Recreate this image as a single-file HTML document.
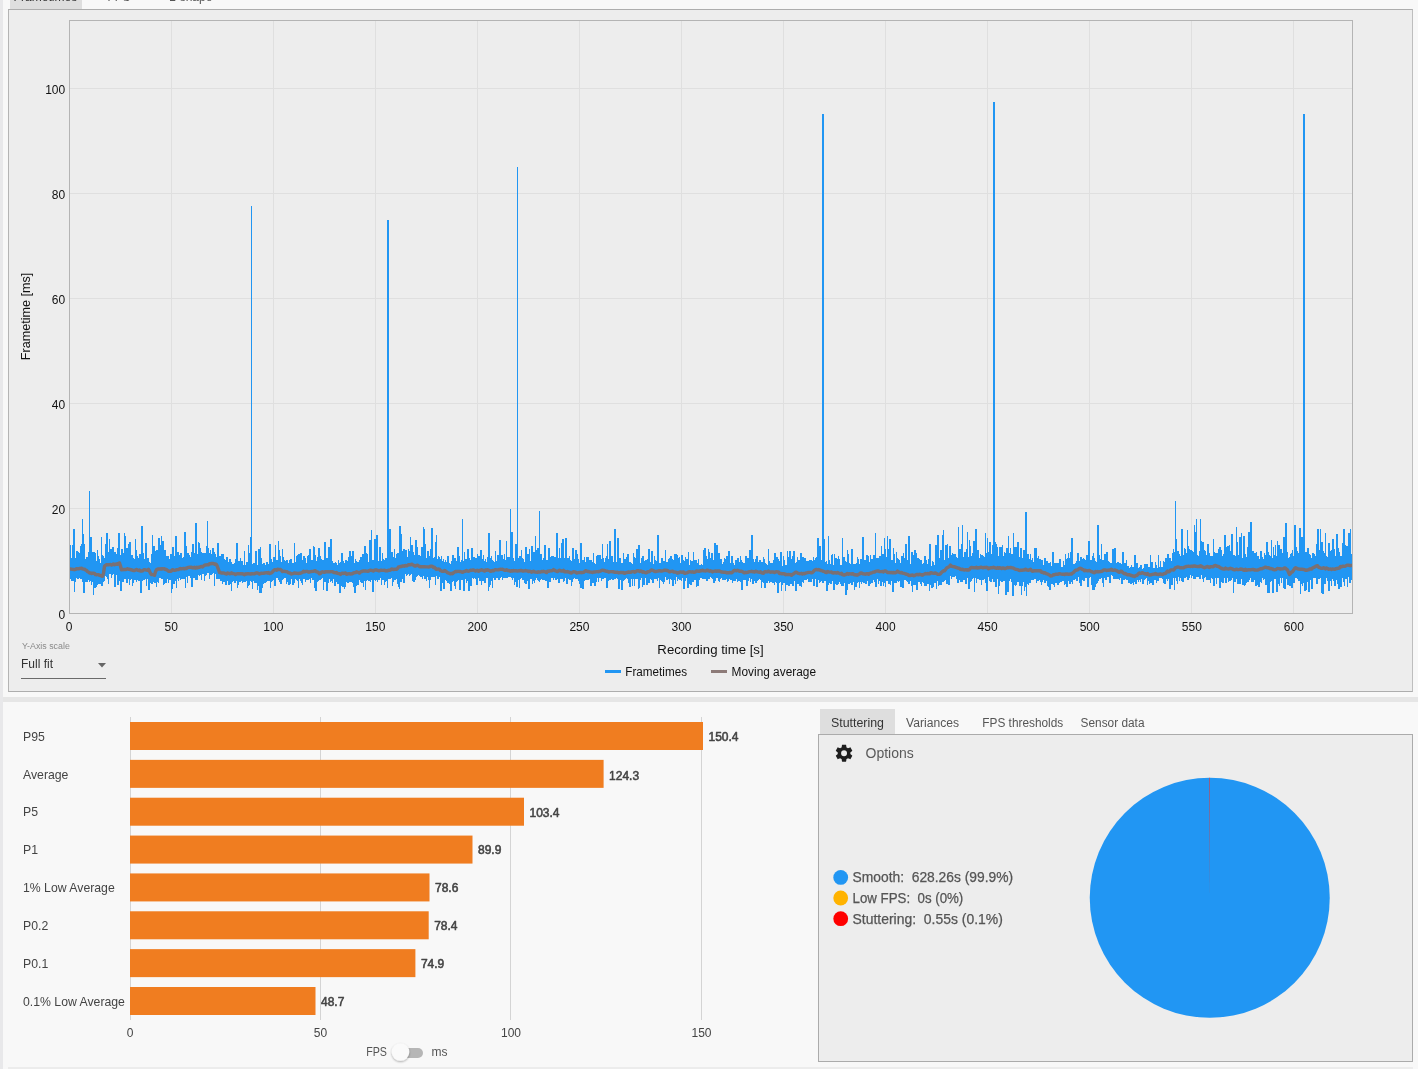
<!DOCTYPE html><html lang="en"><head><meta charset="utf-8"><title>CapFrameX Analysis</title>
<style>
html,body{margin:0;padding:0}
body{width:1418px;height:1069px;position:relative;overflow:hidden;background:#f8f8f8;font-family:"Liberation Sans", sans-serif;font-size:12px;color:#444}
.abs{position:absolute}
.t{position:absolute;white-space:nowrap;line-height:1}
svg{position:absolute;left:0;top:0}
svg text{font-family:"Liberation Sans", sans-serif}
</style></head><body>
<div class="abs" style="left:0;top:0;width:3px;height:1069px;background:#e8e8ea"></div>
<div class="abs" style="left:10px;top:0;width:72px;height:9px;background:#dedede"></div>
<div class="t" id="tab1" style="left:13.5px;top:-9px;letter-spacing:0.05px;font-size:12px;color:#333">Frametimes</div>
<div class="t" id="tab2" style="left:107.6px;top:-9px;font-size:11.6px;color:#555">FPS</div>
<div class="t" id="tab3" style="left:169px;top:-9px;font-size:12px;color:#555">L-shape</div>
<div class="abs" style="left:8px;top:9px;width:1403px;height:681px;border:1px solid #adadad;border-left-color:#b4b4b4;border-right-color:#bebebe;background:#ededed"></div>
<div class="abs" style="left:3px;top:697px;width:1415px;height:5px;background:#e6e6e6"></div>
<div class="abs" style="left:8px;top:1067px;width:1405px;height:2px;background:#ececec"></div>
<svg width="1418" height="1069" viewBox="0 0 1418 1069">
<path d="M171.5,21V613 M273.5,21V613 M375.5,21V613 M477.5,21V613 M579.5,21V613 M681.5,21V613 M783.5,21V613 M885.5,21V613 M987.5,21V613 M1089.5,21V613 M1191.5,21V613 M1293.5,21V613 M70,508.5H1352 M70,403.5H1352 M70,298.5H1352 M70,193.5H1352 M70,88.5H1352" stroke="#dfdfdf" stroke-width="1" fill="none" shape-rendering="crispEdges"/>
<clipPath id="pc"><rect x="70" y="21" width="1282" height="592"/></clipPath><g clip-path="url(#pc)">
<path d="M69.5,590.0V544.7M70.5,579.2V544.7M71.5,580.5V557.6M72.5,580.5V545.0M73.5,581.1V528.7M74.5,592.0V528.7M75.5,581.6V557.6M76.5,578.0V551.1M77.5,578.6V551.1M78.5,578.6V552.2M79.5,578.2V552.6M80.5,579.1V545.6M81.5,579.3V543.8M82.5,581.5V519.0M83.5,592.6V534.2M84.5,592.6V544.3M85.5,582.1V559.3M86.5,582.1V556.6M87.5,582.1V556.5M88.5,580.3V551.7M89.5,581.9V490.7M90.5,580.6V537.0M91.5,585.4V537.0M92.5,581.7V551.9M93.5,595.3V551.9M94.5,587.8V551.5M95.5,587.8V552.7M96.5,587.3V560.9M97.5,584.5V549.6M98.5,583.8V556.0M99.5,583.8V559.2M100.5,584.2V562.9M101.5,585.6V537.0M102.5,585.6V554.5M103.5,581.6V556.3M104.5,580.6V557.9M105.5,576.3V543.6M106.5,576.9V533.2M107.5,579.0V533.2M108.5,583.7V552.3M109.5,573.6V539.2M110.5,573.6V549.1M111.5,577.9V549.1M112.5,574.6V546.7M113.5,573.6V546.7M114.5,587.3V552.4M115.5,587.3V552.0M116.5,575.1V553.5M117.5,584.9V548.1M118.5,584.9V532.7M119.5,581.0V532.7M120.5,590.6V555.2M121.5,590.6V549.3M122.5,581.5V549.3M123.5,581.5V552.8M124.5,578.9V533.4M125.5,578.9V536.2M126.5,582.5V548.4M127.5,582.5V548.4M128.5,578.9V543.7M129.5,584.8V542.4M130.5,579.7V542.4M131.5,578.7V555.3M132.5,585.7V555.3M133.5,583.2V557.6M134.5,579.7V559.0M135.5,579.7V539.3M136.5,581.5V549.8M137.5,580.2V555.8M138.5,581.0V558.2M139.5,581.0V553.6M140.5,593.0V553.6M141.5,593.0V525.7M142.5,580.9V525.7M143.5,580.3V552.6M144.5,579.8V559.0M145.5,578.5V543.1M146.5,585.6V543.1M147.5,579.3V558.3M148.5,589.6V558.3M149.5,589.6V562.3M150.5,582.6V562.5M151.5,584.0V553.6M152.5,584.0V535.3M153.5,582.2V545.7M154.5,583.2V545.7M155.5,583.2V551.3M156.5,587.1V549.6M157.5,582.3V549.6M158.5,582.6V538.0M159.5,578.3V538.0M160.5,578.3V545.4M161.5,578.7V536.4M162.5,578.7V540.8M163.5,585.2V540.8M164.5,583.7V549.6M165.5,583.1V549.6M166.5,583.1V556.2M167.5,579.3V556.0M168.5,583.0V556.0M169.5,580.1V559.3M170.5,579.8V554.2M171.5,592.6V554.1M172.5,589.1V547.3M173.5,583.6V547.3M174.5,583.6V555.9M175.5,580.8V536.1M176.5,588.1V536.1M177.5,579.3V551.8M178.5,580.7V551.8M179.5,577.9V555.4M180.5,580.1V552.6M181.5,579.3V552.6M182.5,579.2V557.5M183.5,579.1V556.9M184.5,579.1V532.0M185.5,588.4V532.0M186.5,576.8V545.7M187.5,582.9V553.1M188.5,576.3V553.1M189.5,575.5V555.4M190.5,578.0V557.0M191.5,587.0V552.0M192.5,587.0V544.3M193.5,578.4V544.3M194.5,578.4V553.3M195.5,579.6V522.7M196.5,580.0V522.7M197.5,580.0V553.9M198.5,575.0V542.1M199.5,576.3V542.7M200.5,574.5V547.9M201.5,579.8V551.5M202.5,574.0V552.9M203.5,574.0V552.9M204.5,581.1V552.6M205.5,576.4V552.6M206.5,575.0V545.8M207.5,573.2V521.3M208.5,573.2V548.4M209.5,578.8V553.1M210.5,575.4V549.7M211.5,575.4V554.1M212.5,573.9V547.6M213.5,572.9V547.6M214.5,586.3V552.3M215.5,574.2V553.7M216.5,578.6V556.6M217.5,578.6V543.3M218.5,579.4V543.3M219.5,578.8V555.6M220.5,580.6V555.6M221.5,580.6V554.4M222.5,584.1V554.4M223.5,582.4V554.4M224.5,582.4V558.9M225.5,584.5V560.4M226.5,584.5V557.2M227.5,580.5V557.2M228.5,585.1V562.1M229.5,585.1V559.0M230.5,584.4V559.0M231.5,590.9V562.4M232.5,582.2V563.7M233.5,581.4V564.2M234.5,582.7V562.5M235.5,582.7V559.2M236.5,581.0V542.6M237.5,588.2V542.6M238.5,584.6V560.9M239.5,582.0V560.9M240.5,582.0V558.3M241.5,581.1V560.5M242.5,582.6V560.5M243.5,581.6V564.5M244.5,581.6V550.6M245.5,582.3V565.1M246.5,581.1V561.5M247.5,588.4V561.5M248.5,585.6V544.7M249.5,585.0V552.6M250.5,580.6V536.6M251.5,581.9V206.1M252.5,589.1V564.1M253.5,580.8V562.5M254.5,582.8V563.4M255.5,582.8V551.2M256.5,583.1V551.2M257.5,589.5V564.6M258.5,585.8V549.1M259.5,593.2V549.1M260.5,593.2V547.0M261.5,593.2V557.5M262.5,587.5V564.3M263.5,583.6V562.7M264.5,583.3V562.7M265.5,583.1V564.5M266.5,581.5V562.1M267.5,581.0V562.1M268.5,581.2V564.3M269.5,581.4V543.8M270.5,587.7V543.8M271.5,582.1V558.7M272.5,580.9V562.1M273.5,579.7V556.6M274.5,585.6V556.6M275.5,585.6V544.6M276.5,578.2V560.2M277.5,578.2V560.2M278.5,580.4V540.7M279.5,581.5V550.4M280.5,584.0V555.9M281.5,584.0V561.7M282.5,580.0V549.3M283.5,578.5V557.0M284.5,578.3V560.3M285.5,577.9V560.6M286.5,584.1V560.0M287.5,582.3V560.0M288.5,584.7V563.1M289.5,584.7V559.5M290.5,583.9V559.0M291.5,579.1V559.0M292.5,584.6V563.4M293.5,584.6V563.3M294.5,582.5V542.5M295.5,579.4V561.5M296.5,579.7V556.4M297.5,580.9V555.1M298.5,587.5V553.7M299.5,579.0V553.7M300.5,580.7V553.4M301.5,583.2V553.4M302.5,584.6V560.3M303.5,578.9V556.3M304.5,578.9V556.3M305.5,582.4V557.5M306.5,580.4V562.8M307.5,580.4V555.8M308.5,580.4V555.3M309.5,578.6V549.4M310.5,582.6V549.4M311.5,578.4V560.0M312.5,579.7V560.0M313.5,579.7V546.3M314.5,587.6V546.8M315.5,590.5V555.0M316.5,590.5V560.7M317.5,581.9V557.1M318.5,581.4V548.4M319.5,580.2V548.4M320.5,580.2V556.2M321.5,579.2V558.8M322.5,578.0V560.0M323.5,590.3V560.0M324.5,581.6V541.6M325.5,581.6V541.6M326.5,590.8V558.2M327.5,590.8V558.3M328.5,582.7V546.9M329.5,579.0V546.9M330.5,581.8V538.9M331.5,581.0V538.9M332.5,582.6V561.3M333.5,579.4V562.7M334.5,586.2V562.7M335.5,586.2V561.5M336.5,581.5V562.7M337.5,584.1V564.9M338.5,584.1V560.3M339.5,593.3V562.5M340.5,593.3V561.6M341.5,585.9V552.6M342.5,586.7V552.6M343.5,586.6V561.2M344.5,589.3V562.8M345.5,587.1V560.3M346.5,582.4V560.3M347.5,583.3V561.1M348.5,583.0V557.3M349.5,582.0V550.7M350.5,582.1V550.7M351.5,582.0V555.9M352.5,582.9V551.4M353.5,586.6V551.4M354.5,593.3V562.9M355.5,593.3V559.4M356.5,585.8V560.7M357.5,585.3V561.6M358.5,585.3V561.5M359.5,580.3V559.8M360.5,582.0V557.4M361.5,582.6V557.4M362.5,582.6V554.0M363.5,587.3V554.0M364.5,581.1V546.1M365.5,590.4V546.1M366.5,580.8V552.6M367.5,579.5V554.0M368.5,580.7V562.3M369.5,580.7V540.0M370.5,581.9V540.0M371.5,580.0V530.2M372.5,592.4V560.1M373.5,592.4V560.3M374.5,580.1V539.3M375.5,581.1V539.3M376.5,580.1V535.0M377.5,581.8V535.0M378.5,580.4V560.5M379.5,580.4V547.2M380.5,578.4V547.2M381.5,585.3V560.7M382.5,580.2V553.4M383.5,580.2V558.6M384.5,585.4V559.8M385.5,582.4V558.1M386.5,580.7V558.1M387.5,587.6V219.8M388.5,579.2V219.8M389.5,579.2V528.6M390.5,579.4V528.6M391.5,578.1V552.3M392.5,586.0V552.3M393.5,582.4V557.1M394.5,579.9V548.5M395.5,579.9V557.5M396.5,578.8V553.5M397.5,583.9V552.9M398.5,587.1V552.9M399.5,588.6V526.0M400.5,581.9V526.0M401.5,581.9V534.2M402.5,578.5V550.9M403.5,582.7V548.7M404.5,582.7V548.7M405.5,573.9V549.7M406.5,576.1V549.7M407.5,574.6V556.6M408.5,574.4V549.3M409.5,575.7V550.5M410.5,574.9V536.9M411.5,574.0V545.0M412.5,580.9V545.0M413.5,582.4V552.2M414.5,582.4V554.6M415.5,579.7V539.7M416.5,577.3V539.7M417.5,576.4V547.1M418.5,574.5V555.4M419.5,576.4V555.4M420.5,576.5V556.4M421.5,576.5V546.6M422.5,579.3V546.6M423.5,575.6V526.6M424.5,579.3V528.9M425.5,579.3V543.5M426.5,580.9V557.5M427.5,576.7V551.4M428.5,579.6V551.4M429.5,588.1V555.9M430.5,579.6V548.9M431.5,576.8V528.4M432.5,577.4V528.4M433.5,576.8V558.4M434.5,576.8V556.7M435.5,585.4V541.8M436.5,576.3V535.3M437.5,578.8V558.7M438.5,578.8V556.1M439.5,577.4V557.4M440.5,590.8V558.7M441.5,590.8V555.8M442.5,583.4V560.6M443.5,589.2V558.5M444.5,589.2V562.3M445.5,580.1V559.5M446.5,581.3V561.5M447.5,583.3V555.7M448.5,583.3V555.7M449.5,583.6V562.6M450.5,591.2V563.8M451.5,591.2V560.9M452.5,582.0V554.6M453.5,580.9V554.6M454.5,585.9V558.0M455.5,589.2V558.0M456.5,581.5V560.9M457.5,581.4V546.6M458.5,580.1V546.6M459.5,590.3V556.4M460.5,590.3V561.5M461.5,579.7V559.9M462.5,579.7V518.5M463.5,590.5V561.1M464.5,590.5V551.9M465.5,578.7V559.0M466.5,582.8V559.0M467.5,580.9V549.3M468.5,590.9V549.3M469.5,590.8V557.9M470.5,586.4V560.1M471.5,586.4V547.6M472.5,578.3V547.6M473.5,578.7V557.2M474.5,577.8V557.2M475.5,579.3V557.7M476.5,585.0V557.7M477.5,585.0V554.2M478.5,578.0V556.4M479.5,580.7V556.4M480.5,580.7V550.1M481.5,584.7V550.1M482.5,581.4V558.7M483.5,581.4V554.5M484.5,582.6V561.2M485.5,582.6V558.7M486.5,578.4V562.2M487.5,578.3V556.5M488.5,591.2V532.8M489.5,586.8V532.8M490.5,584.6V558.1M491.5,580.9V556.4M492.5,588.4V559.9M493.5,578.0V561.3M494.5,579.9V561.6M495.5,579.9V550.8M496.5,578.3V561.1M497.5,578.2V554.9M498.5,580.1V555.3M499.5,579.5V539.9M500.5,578.4V539.9M501.5,576.8V554.8M502.5,579.9V554.8M503.5,578.3V558.5M504.5,578.3V554.4M505.5,578.3V559.6M506.5,578.0V541.1M507.5,577.7V557.1M508.5,577.3V557.3M509.5,577.3V556.8M510.5,577.3V509.1M511.5,577.5V531.7M512.5,579.8V531.7M513.5,577.7V558.3M514.5,584.6V560.6M515.5,581.6V543.8M516.5,586.7V543.8M517.5,586.7V166.8M518.5,579.6V557.8M519.5,587.5V555.5M520.5,578.7V555.5M521.5,578.2V550.0M522.5,579.7V558.2M523.5,579.7V559.4M524.5,583.4V561.9M525.5,584.1V546.6M526.5,584.1V546.9M527.5,580.6V553.5M528.5,589.1V553.5M529.5,589.1V549.1M530.5,578.8V560.9M531.5,578.7V546.3M532.5,583.5V546.3M533.5,581.4V551.7M534.5,582.7V551.7M535.5,579.6V536.0M536.5,577.8V550.0M537.5,580.4V548.1M538.5,580.7V548.1M539.5,581.7V511.1M540.5,579.6V554.4M541.5,578.8V554.4M542.5,579.6V560.4M543.5,579.6V558.3M544.5,579.5V545.3M545.5,580.5V545.3M546.5,580.5V560.0M547.5,588.3V560.0M548.5,588.3V547.7M549.5,582.0V547.7M550.5,582.0V556.7M551.5,577.7V556.3M552.5,578.3V555.7M553.5,579.9V555.7M554.5,577.7V557.3M555.5,579.9V557.4M556.5,579.9V532.7M557.5,578.9V532.7M558.5,583.2V557.8M559.5,583.2V548.4M560.5,579.4V558.0M561.5,578.7V542.7M562.5,578.7V539.2M563.5,582.3V539.2M564.5,581.3V557.8M565.5,578.4V537.9M566.5,583.7V537.9M567.5,583.7V558.3M568.5,578.9V558.3M569.5,579.9V556.0M570.5,579.9V560.0M571.5,585.9V560.7M572.5,581.8V547.9M573.5,579.0V547.9M574.5,578.4V559.0M575.5,578.8V549.7M576.5,579.2V549.7M577.5,578.8V553.6M578.5,580.7V558.7M579.5,583.6V562.6M580.5,587.9V543.1M581.5,587.9V543.1M582.5,588.9V559.8M583.5,588.9V559.8M584.5,580.6V556.9M585.5,580.3V562.3M586.5,580.2V556.7M587.5,579.6V556.7M588.5,579.6V557.2M589.5,579.2V559.7M590.5,586.0V559.7M591.5,586.0V560.4M592.5,583.4V561.6M593.5,583.4V552.5M594.5,586.2V562.9M595.5,586.2V563.6M596.5,581.5V555.6M597.5,578.2V554.6M598.5,582.4V555.4M599.5,577.7V555.4M600.5,577.5V555.1M601.5,580.5V558.6M602.5,579.1V544.0M603.5,579.2V557.8M604.5,578.4V561.8M605.5,578.4V557.7M606.5,588.1V555.8M607.5,588.1V544.4M608.5,581.4V558.7M609.5,579.6V540.7M610.5,580.1V540.7M611.5,578.5V556.1M612.5,580.1V556.1M613.5,579.8V562.0M614.5,578.9V529.0M615.5,578.9V529.0M616.5,578.1V561.7M617.5,578.7V537.6M618.5,589.4V537.6M619.5,589.4V557.8M620.5,579.8V558.0M621.5,589.6V562.9M622.5,589.6V562.5M623.5,580.7V552.9M624.5,580.3V558.7M625.5,578.7V558.7M626.5,578.4V557.0M627.5,578.8V554.4M628.5,583.4V554.4M629.5,586.5V561.9M630.5,586.5V561.5M631.5,579.4V562.8M632.5,586.4V564.0M633.5,579.4V553.2M634.5,585.6V556.8M635.5,579.3V558.1M636.5,579.4V549.3M637.5,578.8V549.3M638.5,588.7V544.6M639.5,587.7V544.6M640.5,580.0V563.2M641.5,577.6V558.1M642.5,587.2V555.8M643.5,584.6V555.8M644.5,584.6V560.8M645.5,577.8V559.7M646.5,584.8V559.7M647.5,584.8V559.0M648.5,583.1V548.5M649.5,583.1V548.5M650.5,579.2V562.1M651.5,580.1V551.2M652.5,582.9V551.2M653.5,582.9V563.7M654.5,578.8V555.5M655.5,578.7V560.3M656.5,579.3V560.5M657.5,580.8V535.3M658.5,578.1V535.3M659.5,587.7V563.2M660.5,579.5V563.0M661.5,581.0V557.7M662.5,581.8V557.7M663.5,583.9V561.3M664.5,581.9V561.3M665.5,577.3V549.5M666.5,579.7V561.6M667.5,579.7V561.8M668.5,579.0V559.2M669.5,583.9V558.0M670.5,578.7V556.2M671.5,580.4V556.2M672.5,585.7V558.8M673.5,585.7V559.9M674.5,579.6V554.0M675.5,584.4V554.0M676.5,577.4V554.3M677.5,581.1V554.5M678.5,579.4V558.4M679.5,579.9V557.0M680.5,579.9V563.2M681.5,581.0V555.3M682.5,578.3V555.3M683.5,588.5V560.2M684.5,588.5V560.9M685.5,581.0V557.0M686.5,578.4V559.4M687.5,587.7V559.4M688.5,587.7V551.7M689.5,584.0V565.4M690.5,584.9V560.2M691.5,584.9V560.9M692.5,581.8V560.9M693.5,581.8V551.5M694.5,579.5V559.6M695.5,579.6V559.9M696.5,587.3V559.9M697.5,585.5V562.5M698.5,585.5V559.4M699.5,580.0V564.6M700.5,578.0V564.6M701.5,577.9V563.6M702.5,578.8V564.6M703.5,578.8V550.3M704.5,579.4V548.1M705.5,579.0V548.1M706.5,581.4V556.2M707.5,581.3V558.7M708.5,579.1V548.9M709.5,579.1V551.6M710.5,577.4V557.9M711.5,578.1V552.9M712.5,579.3V552.9M713.5,582.8V560.3M714.5,582.8V543.2M715.5,580.9V543.2M716.5,578.1V545.1M717.5,578.1V545.1M718.5,580.8V553.3M719.5,582.1V553.3M720.5,578.8V559.2M721.5,578.3V559.2M722.5,580.3V564.3M723.5,580.3V562.0M724.5,580.3V557.8M725.5,580.3V558.6M726.5,579.1V556.2M727.5,581.9V556.2M728.5,580.7V551.1M729.5,579.2V551.1M730.5,580.3V562.7M731.5,580.4V555.5M732.5,583.2V555.5M733.5,581.3V563.3M734.5,580.5V564.6M735.5,580.5V560.3M736.5,578.8V560.4M737.5,582.0V558.2M738.5,580.6V558.2M739.5,580.6V562.1M740.5,581.5V556.0M741.5,590.2V560.4M742.5,590.2V562.1M743.5,580.2V562.5M744.5,580.2V562.7M745.5,580.0V556.1M746.5,585.5V556.1M747.5,585.5V558.2M748.5,580.6V558.2M749.5,578.3V550.3M750.5,582.3V550.3M751.5,578.5V535.3M752.5,584.0V535.3M753.5,584.0V559.0M754.5,581.2V562.1M755.5,583.2V559.2M756.5,583.2V555.5M757.5,581.1V555.5M758.5,579.5V561.9M759.5,579.3V559.7M760.5,579.6V559.7M761.5,588.3V562.3M762.5,581.5V562.2M763.5,583.2V557.1M764.5,588.2V558.6M765.5,588.2V563.1M766.5,583.3V564.2M767.5,583.3V564.6M768.5,581.4V548.6M769.5,582.8V561.3M770.5,581.8V563.0M771.5,581.5V563.2M772.5,582.8V563.2M773.5,582.8V560.1M774.5,585.3V553.2M775.5,581.8V553.2M776.5,582.9V557.3M777.5,593.3V557.3M778.5,593.3V559.1M779.5,583.4V560.5M780.5,581.5V552.2M781.5,591.3V552.2M782.5,585.4V566.1M783.5,583.2V555.7M784.5,582.6V560.1M785.5,590.7V564.9M786.5,584.8V564.9M787.5,584.8V551.2M788.5,586.3V556.6M789.5,586.3V551.4M790.5,583.8V551.4M791.5,583.5V559.3M792.5,585.5V555.7M793.5,585.5V551.4M794.5,581.4V551.4M795.5,590.6V563.1M796.5,590.6V562.1M797.5,584.4V557.3M798.5,584.4V559.6M799.5,585.6V559.6M800.5,585.6V552.6M801.5,586.9V552.6M802.5,582.0V556.6M803.5,582.7V556.6M804.5,579.9V557.6M805.5,579.7V557.6M806.5,579.7V561.4M807.5,579.3V561.3M808.5,581.8V561.3M809.5,581.8V560.0M810.5,581.6V560.0M811.5,581.6V560.2M812.5,579.2V560.9M813.5,585.8V556.7M814.5,585.8V559.5M815.5,579.4V557.5M816.5,587.4V557.2M817.5,587.4V537.9M818.5,579.5V537.9M819.5,582.8V546.0M820.5,581.7V546.0M821.5,581.3V560.3M822.5,582.6V114.2M823.5,582.6V114.2M824.5,580.6V538.5M825.5,581.2V561.5M826.5,591.3V561.3M827.5,591.3V563.5M828.5,584.7V536.0M829.5,582.5V559.9M830.5,583.7V564.0M831.5,583.7V554.8M832.5,581.3V553.7M833.5,589.5V564.5M834.5,589.5V553.7M835.5,583.5V558.3M836.5,585.0V558.3M837.5,585.0V559.3M838.5,583.8V556.2M839.5,581.9V559.2M840.5,584.0V565.3M841.5,585.8V565.1M842.5,586.1V538.3M843.5,586.1V557.0M844.5,583.1V557.0M845.5,594.7V560.9M846.5,594.7V561.8M847.5,590.2V549.8M848.5,583.7V554.2M849.5,583.7V563.1M850.5,582.5V564.0M851.5,584.7V549.0M852.5,584.7V549.0M853.5,582.3V563.7M854.5,590.4V564.4M855.5,586.6V564.4M856.5,586.6V563.3M857.5,582.5V556.5M858.5,582.2V559.3M859.5,587.5V563.9M860.5,581.6V559.4M861.5,583.8V559.4M862.5,581.6V536.7M863.5,582.8V536.7M864.5,582.8V559.6M865.5,583.7V559.6M866.5,583.7V555.2M867.5,580.9V555.2M868.5,586.4V556.4M869.5,586.4V561.7M870.5,584.2V554.8M871.5,582.8V558.8M872.5,583.4V558.8M873.5,579.9V554.8M874.5,582.3V554.8M875.5,586.6V533.2M876.5,586.6V558.0M877.5,579.0V557.9M878.5,583.6V557.9M879.5,581.4V556.2M880.5,586.3V556.2M881.5,586.3V546.4M882.5,581.7V554.2M883.5,586.1V554.2M884.5,582.7V537.9M885.5,587.3V549.2M886.5,581.2V557.0M887.5,581.4V535.8M888.5,584.1V549.3M889.5,584.1V538.6M890.5,584.9V538.6M891.5,581.1V559.8M892.5,591.9V559.8M893.5,591.9V548.2M894.5,582.9V554.4M895.5,582.9V563.1M896.5,582.9V551.9M897.5,580.8V557.7M898.5,582.4V559.4M899.5,580.8V560.1M900.5,587.2V563.1M901.5,587.2V556.4M902.5,588.1V556.4M903.5,588.1V553.0M904.5,580.3V558.4M905.5,580.3V543.5M906.5,580.5V543.5M907.5,582.3V560.0M908.5,584.2V535.5M909.5,584.2V535.5M910.5,580.8V563.8M911.5,585.5V552.4M912.5,592.2V552.4M913.5,584.5V554.9M914.5,584.5V550.1M915.5,584.7V550.1M916.5,589.5V553.2M917.5,589.5V557.8M918.5,582.2V557.8M919.5,581.7V558.8M920.5,583.5V559.5M921.5,586.1V559.5M922.5,581.5V563.5M923.5,583.3V562.5M924.5,585.6V555.6M925.5,585.6V555.6M926.5,585.6V559.8M927.5,583.5V564.2M928.5,584.0V558.7M929.5,591.2V544.2M930.5,585.1V544.2M931.5,587.9V565.7M932.5,587.9V561.2M933.5,586.5V562.0M934.5,582.9V565.4M935.5,582.9V544.9M936.5,588.6V544.9M937.5,581.4V534.8M938.5,585.8V534.8M939.5,585.3V557.6M940.5,585.3V549.5M941.5,584.8V549.5M942.5,581.7V535.1M943.5,581.7V530.0M944.5,581.3V559.9M945.5,580.1V545.4M946.5,583.7V545.4M947.5,583.7V543.9M948.5,585.0V557.7M949.5,585.0V545.6M950.5,575.9V545.6M951.5,579.0V555.2M952.5,577.0V552.7M953.5,577.0V553.8M954.5,577.4V553.8M955.5,576.1V554.2M956.5,579.3V556.9M957.5,583.3V558.2M958.5,583.3V526.8M959.5,579.6V548.9M960.5,582.3V548.9M961.5,582.3V544.3M962.5,582.1V525.2M963.5,579.5V556.9M964.5,579.5V551.5M965.5,584.0V551.5M966.5,584.0V548.5M967.5,578.0V531.6M968.5,589.0V557.0M969.5,589.0V539.5M970.5,581.9V545.8M971.5,580.6V556.0M972.5,578.8V553.2M973.5,577.9V541.0M974.5,592.2V541.0M975.5,577.6V529.0M976.5,583.2V529.0M977.5,579.4V549.6M978.5,578.9V549.6M979.5,579.9V558.2M980.5,579.9V554.2M981.5,584.5V555.2M982.5,579.8V555.2M983.5,579.8V556.4M984.5,578.6V557.2M985.5,582.5V533.2M986.5,591.4V553.4M987.5,591.4V537.7M988.5,577.3V551.5M989.5,581.1V541.7M990.5,582.4V541.7M991.5,582.4V554.1M992.5,579.0V545.0M993.5,581.5V102.2M994.5,581.5V102.2M995.5,587.2V541.9M996.5,587.2V543.5M997.5,579.3V547.2M998.5,593.6V555.5M999.5,585.7V546.5M1000.5,581.3V546.5M1001.5,582.2V547.0M1002.5,582.2V545.0M1003.5,580.6V556.2M1004.5,580.6V551.6M1005.5,594.5V552.9M1006.5,594.5V548.4M1007.5,591.7V548.4M1008.5,591.7V536.3M1009.5,581.2V552.7M1010.5,579.1V547.9M1011.5,581.5V554.2M1012.5,596.2V554.2M1013.5,596.2V533.2M1014.5,584.7V547.0M1015.5,585.7V547.0M1016.5,585.1V547.3M1017.5,582.4V542.4M1018.5,582.4V542.4M1019.5,585.6V556.7M1020.5,585.6V548.2M1021.5,594.8V548.2M1022.5,585.8V557.6M1023.5,582.2V549.8M1024.5,591.2V549.8M1025.5,587.3V512.2M1026.5,596.2V512.2M1027.5,583.8V553.7M1028.5,585.2V553.7M1029.5,583.4V559.3M1030.5,583.4V553.7M1031.5,580.4V559.9M1032.5,580.4V557.6M1033.5,579.7V561.7M1034.5,579.3V547.6M1035.5,579.4V547.6M1036.5,582.8V547.8M1037.5,581.4V558.0M1038.5,581.4V555.8M1039.5,580.1V558.8M1040.5,582.4V558.8M1041.5,585.2V560.0M1042.5,581.6V560.0M1043.5,579.9V564.5M1044.5,583.3V558.3M1045.5,583.1V558.3M1046.5,580.6V560.9M1047.5,586.3V560.9M1048.5,586.6V563.2M1049.5,590.2V563.2M1050.5,590.2V562.0M1051.5,583.6V565.8M1052.5,583.6V551.5M1053.5,584.6V551.5M1054.5,587.2V562.8M1055.5,582.6V562.8M1056.5,582.6V562.6M1057.5,585.0V563.4M1058.5,584.5V563.4M1059.5,582.9V559.3M1060.5,582.4V559.3M1061.5,581.9V566.9M1062.5,581.3V566.9M1063.5,580.9V560.5M1064.5,585.1V564.5M1065.5,583.8V553.5M1066.5,586.8V559.1M1067.5,586.8V557.6M1068.5,581.4V552.7M1069.5,583.5V557.7M1070.5,583.5V552.0M1071.5,582.1V538.0M1072.5,583.9V538.0M1073.5,579.9V564.3M1074.5,580.4V564.3M1075.5,579.3V563.3M1076.5,581.1V560.5M1077.5,581.1V553.4M1078.5,577.4V553.4M1079.5,582.7V561.1M1080.5,585.8V556.5M1081.5,585.8V556.5M1082.5,579.8V559.0M1083.5,580.6V557.8M1084.5,580.6V559.0M1085.5,577.6V559.6M1086.5,577.6V554.9M1087.5,586.6V554.9M1088.5,586.6V540.7M1089.5,578.4V540.7M1090.5,577.0V559.7M1091.5,585.2V559.7M1092.5,590.1V555.6M1093.5,590.1V553.3M1094.5,590.2V557.7M1095.5,586.7V561.0M1096.5,583.6V561.5M1097.5,582.5V524.8M1098.5,581.3V524.8M1099.5,578.9V555.0M1100.5,578.7V558.8M1101.5,578.0V544.2M1102.5,582.6V560.1M1103.5,587.1V560.1M1104.5,578.1V554.1M1105.5,580.4V554.1M1106.5,580.4V551.7M1107.5,577.1V551.7M1108.5,577.1V561.0M1109.5,582.9V562.2M1110.5,582.9V562.5M1111.5,575.3V563.1M1112.5,575.7V549.4M1113.5,578.8V549.4M1114.5,578.8V547.7M1115.5,579.3V547.7M1116.5,579.3V563.0M1117.5,578.5V561.9M1118.5,579.1V561.9M1119.5,580.3V562.9M1120.5,577.5V562.9M1121.5,584.1V564.4M1122.5,584.1V551.8M1123.5,580.0V551.8M1124.5,580.0V563.1M1125.5,578.8V563.1M1126.5,579.6V560.3M1127.5,579.6V566.1M1128.5,582.6V566.1M1129.5,582.6V568.3M1130.5,584.3V566.6M1131.5,584.3V565.1M1132.5,582.5V567.0M1133.5,585.0V567.0M1134.5,582.3V554.5M1135.5,584.4V554.5M1136.5,584.4V562.7M1137.5,579.6V562.7M1138.5,581.8V567.5M1139.5,579.9V566.5M1140.5,582.1V565.0M1141.5,579.3V565.0M1142.5,583.9V568.5M1143.5,583.9V567.9M1144.5,580.2V564.1M1145.5,579.4V564.1M1146.5,577.7V564.3M1147.5,585.1V564.3M1148.5,580.5V566.5M1149.5,583.5V567.2M1150.5,582.7V555.3M1151.5,582.7V561.7M1152.5,585.0V561.7M1153.5,585.0V567.5M1154.5,580.3V567.5M1155.5,580.3V562.1M1156.5,583.3V564.6M1157.5,580.9V567.8M1158.5,580.9V554.7M1159.5,578.0V567.0M1160.5,577.6V561.0M1161.5,578.3V566.7M1162.5,579.4V566.7M1163.5,582.7V560.8M1164.5,583.9V562.3M1165.5,583.9V557.5M1166.5,579.3V558.2M1167.5,580.7V554.1M1168.5,578.6V554.1M1169.5,589.2V558.0M1170.5,589.2V557.5M1171.5,585.4V560.7M1172.5,585.4V552.9M1173.5,577.5V548.9M1174.5,590.1V552.4M1175.5,578.0V501.2M1176.5,581.1V538.9M1177.5,583.8V551.0M1178.5,576.6V551.0M1179.5,580.7V553.7M1180.5,577.5V555.6M1181.5,580.9V529.0M1182.5,581.6V529.0M1183.5,581.6V555.0M1184.5,578.0V548.4M1185.5,578.0V548.6M1186.5,577.2V553.3M1187.5,580.3V530.0M1188.5,580.3V545.6M1189.5,577.6V549.2M1190.5,575.4V549.8M1191.5,577.6V549.8M1192.5,575.6V550.7M1193.5,579.1V551.5M1194.5,578.9V524.9M1195.5,578.9V531.6M1196.5,576.8V518.9M1197.5,576.5V555.3M1198.5,576.8V555.6M1199.5,579.1V550.6M1200.5,579.1V518.6M1201.5,574.8V540.7M1202.5,578.9V542.0M1203.5,581.5V542.0M1204.5,577.7V549.9M1205.5,577.4V550.5M1206.5,579.9V554.9M1207.5,579.9V543.9M1208.5,580.3V543.9M1209.5,580.0V552.8M1210.5,582.9V555.8M1211.5,578.3V555.8M1212.5,579.3V556.2M1213.5,585.9V538.7M1214.5,585.9V552.0M1215.5,577.7V552.7M1216.5,584.2V552.7M1217.5,577.8V553.2M1218.5,577.8V549.0M1219.5,587.7V547.1M1220.5,588.3V547.1M1221.5,581.8V550.2M1222.5,583.1V555.6M1223.5,583.1V554.4M1224.5,578.2V535.2M1225.5,583.4V535.2M1226.5,583.4V547.3M1227.5,578.2V545.8M1228.5,582.1V545.8M1229.5,581.0V544.7M1230.5,581.0V550.5M1231.5,579.6V533.8M1232.5,578.0V533.8M1233.5,593.4V554.8M1234.5,581.6V554.8M1235.5,581.6V555.8M1236.5,579.4V526.8M1237.5,584.2V541.5M1238.5,584.2V554.8M1239.5,583.7V537.2M1240.5,583.7V537.2M1241.5,579.0V532.6M1242.5,584.7V558.1M1243.5,584.7V535.5M1244.5,586.4V535.5M1245.5,584.8V553.5M1246.5,582.9V557.2M1247.5,582.4V547.1M1248.5,582.4V531.6M1249.5,579.5V532.3M1250.5,577.8V521.5M1251.5,582.4V521.5M1252.5,582.4V551.0M1253.5,581.5V551.0M1254.5,579.5V552.8M1255.5,586.0V552.8M1256.5,586.0V551.8M1257.5,584.6V556.1M1258.5,586.5V556.1M1259.5,586.5V558.6M1260.5,582.3V551.1M1261.5,583.1V551.1M1262.5,578.0V556.8M1263.5,579.5V558.6M1264.5,579.0V553.0M1265.5,584.8V554.5M1266.5,584.8V541.6M1267.5,593.3V541.6M1268.5,593.3V552.3M1269.5,593.3V555.1M1270.5,582.4V556.1M1271.5,580.8V540.0M1272.5,593.3V557.8M1273.5,593.3V547.4M1274.5,579.2V554.8M1275.5,578.7V544.8M1276.5,592.0V556.3M1277.5,592.0V540.9M1278.5,584.0V545.1M1279.5,585.5V545.1M1280.5,578.2V548.8M1281.5,582.6V548.8M1282.5,578.0V553.2M1283.5,587.8V536.5M1284.5,589.2V536.5M1285.5,589.2V522.8M1286.5,579.2V522.8M1287.5,584.7V552.3M1288.5,584.7V557.8M1289.5,586.0V557.3M1290.5,586.0V554.4M1291.5,588.1V553.4M1292.5,588.1V550.1M1293.5,583.3V555.8M1294.5,583.3V524.8M1295.5,578.2V524.8M1296.5,578.2V546.7M1297.5,578.5V550.8M1298.5,580.8V552.7M1299.5,580.8V528.4M1300.5,594.4V528.4M1301.5,584.4V537.0M1302.5,586.4V537.0M1303.5,582.5V114.2M1304.5,591.1V114.2M1305.5,591.1V552.2M1306.5,589.5V552.2M1307.5,582.1V547.7M1308.5,591.6V547.7M1309.5,591.6V554.4M1310.5,579.5V554.8M1311.5,588.9V557.6M1312.5,588.9V552.9M1313.5,578.2V552.9M1314.5,577.7V553.9M1315.5,577.7V556.0M1316.5,584.2V543.8M1317.5,584.2V529.0M1318.5,579.4V529.0M1319.5,579.4V550.2M1320.5,578.2V528.7M1321.5,593.2V542.0M1322.5,593.8V542.0M1323.5,593.8V551.2M1324.5,584.0V553.0M1325.5,584.0V533.2M1326.5,578.4V556.3M1327.5,580.5V556.9M1328.5,590.8V543.3M1329.5,590.8V543.3M1330.5,581.4V551.1M1331.5,586.4V550.3M1332.5,579.3V538.8M1333.5,580.5V538.8M1334.5,585.7V548.8M1335.5,585.7V556.4M1336.5,579.9V534.3M1337.5,583.5V534.3M1338.5,589.3V548.1M1339.5,589.3V551.6M1340.5,587.4V556.0M1341.5,587.4V555.7M1342.5,578.3V542.8M1343.5,582.2V528.7M1344.5,586.0V528.7M1345.5,578.9V545.3M1346.5,578.9V545.5M1347.5,586.6V545.5M1348.5,577.2V533.2M1349.5,583.2V533.2M1350.5,583.2V528.7M1351.5,579.9V553.7" fill="none" stroke="#2196f3" stroke-width="1" shape-rendering="crispEdges"/>
<polyline points="69.5,569.2 70.5,569.0 71.5,569.1 72.5,569.4 73.5,569.5 74.5,569.7 75.5,569.4 76.5,568.6 77.5,568.8 78.5,568.9 79.5,568.5 80.5,568.3 81.5,568.1 82.5,568.9 83.5,569.1 84.5,569.1 85.5,570.0 86.5,570.4 87.5,571.5 88.5,572.1 89.5,573.0 90.5,572.9 91.5,573.5 92.5,573.2 93.5,573.1 94.5,573.3 95.5,574.6 96.5,574.7 97.5,574.6 98.5,574.6 99.5,575.3 100.5,575.5 101.5,576.0 102.5,576.3 103.5,573.2 104.5,566.3 105.5,565.3 106.5,564.6 107.5,564.8 108.5,564.8 109.5,564.6 110.5,564.5 111.5,565.0 112.5,564.7 113.5,563.9 114.5,564.7 115.5,564.1 116.5,564.0 117.5,564.3 118.5,563.3 119.5,563.0 120.5,566.0 121.5,569.8 122.5,569.5 123.5,569.7 124.5,569.4 125.5,569.5 126.5,569.3 127.5,568.8 128.5,569.3 129.5,569.3 130.5,569.7 131.5,569.7 132.5,570.3 133.5,570.5 134.5,570.5 135.5,569.9 136.5,569.4 137.5,570.1 138.5,570.5 139.5,570.0 140.5,571.0 141.5,571.0 142.5,570.8 143.5,570.0 144.5,569.7 145.5,569.9 146.5,570.1 147.5,570.2 148.5,569.4 149.5,571.2 150.5,573.4 151.5,574.5 152.5,574.6 153.5,574.7 154.5,575.3 155.5,571.6 156.5,569.8 157.5,569.2 158.5,568.9 159.5,569.0 160.5,568.8 161.5,569.1 162.5,568.7 163.5,568.9 164.5,568.8 165.5,569.6 166.5,569.5 167.5,570.3 168.5,571.2 169.5,571.1 170.5,571.3 171.5,570.9 172.5,569.7 173.5,570.1 174.5,570.4 175.5,570.2 176.5,569.7 177.5,569.6 178.5,569.5 179.5,568.9 180.5,568.5 181.5,568.9 182.5,568.7 183.5,568.5 184.5,568.8 185.5,568.3 186.5,568.5 187.5,567.7 188.5,567.4 189.5,567.2 190.5,567.3 191.5,567.1 192.5,567.8 193.5,567.9 194.5,567.3 195.5,568.1 196.5,567.3 197.5,567.8 198.5,567.1 199.5,567.2 200.5,566.6 201.5,566.4 202.5,567.0 203.5,566.1 204.5,565.2 205.5,565.0 206.5,564.8 207.5,564.6 208.5,564.8 209.5,563.8 210.5,563.8 211.5,563.5 212.5,563.5 213.5,563.4 214.5,564.3 215.5,563.9 216.5,564.6 217.5,566.8 218.5,569.5 219.5,572.5 220.5,572.7 221.5,573.0 222.5,572.9 223.5,573.0 224.5,573.1 225.5,573.7 226.5,574.0 227.5,573.0 228.5,573.3 229.5,573.8 230.5,573.5 231.5,572.8 232.5,573.5 233.5,573.6 234.5,573.8 235.5,574.5 236.5,573.9 237.5,573.8 238.5,573.7 239.5,573.9 240.5,573.6 241.5,573.8 242.5,573.8 243.5,574.2 244.5,574.7 245.5,573.8 246.5,574.0 247.5,573.7 248.5,573.7 249.5,573.9 250.5,574.1 251.5,573.7 252.5,573.8 253.5,573.9 254.5,573.8 255.5,573.2 256.5,573.0 257.5,573.0 258.5,573.4 259.5,574.1 260.5,573.6 261.5,573.2 262.5,573.4 263.5,573.3 264.5,573.0 265.5,572.8 266.5,572.6 267.5,573.1 268.5,572.6 269.5,573.5 270.5,573.2 271.5,572.8 272.5,571.9 273.5,570.6 274.5,569.6 275.5,569.9 276.5,570.2 277.5,569.2 278.5,569.4 279.5,569.6 280.5,569.4 281.5,570.4 282.5,571.5 283.5,571.4 284.5,571.3 285.5,571.5 286.5,571.6 287.5,572.1 288.5,572.8 289.5,572.9 290.5,573.3 291.5,574.0 292.5,573.6 293.5,573.3 294.5,572.9 295.5,573.2 296.5,573.2 297.5,573.4 298.5,573.5 299.5,573.1 300.5,573.2 301.5,572.7 302.5,572.3 303.5,571.2 304.5,571.9 305.5,571.4 306.5,571.4 307.5,571.4 308.5,572.1 309.5,572.1 310.5,571.6 311.5,571.5 312.5,571.4 313.5,571.4 314.5,570.8 315.5,570.8 316.5,571.9 317.5,572.0 318.5,572.6 319.5,573.8 320.5,573.4 321.5,572.2 322.5,571.8 323.5,572.1 324.5,572.4 325.5,571.7 326.5,571.6 327.5,571.7 328.5,571.8 329.5,571.9 330.5,571.6 331.5,571.6 332.5,571.7 333.5,572.5 334.5,572.4 335.5,572.9 336.5,572.5 337.5,573.4 338.5,573.6 339.5,573.7 340.5,574.4 341.5,573.6 342.5,573.1 343.5,573.5 344.5,573.1 345.5,573.0 346.5,574.3 347.5,573.9 348.5,573.8 349.5,573.6 350.5,574.0 351.5,573.8 352.5,573.7 353.5,572.9 354.5,572.7 355.5,572.6 356.5,571.8 357.5,572.1 358.5,572.3 359.5,573.1 360.5,572.1 361.5,571.6 362.5,571.2 363.5,570.9 364.5,571.0 365.5,570.9 366.5,571.1 367.5,571.2 368.5,571.2 369.5,570.4 370.5,570.2 371.5,570.4 372.5,570.7 373.5,571.0 374.5,570.2 375.5,570.0 376.5,570.0 377.5,570.3 378.5,570.8 379.5,570.7 380.5,570.2 381.5,570.3 382.5,570.4 383.5,570.4 384.5,570.2 385.5,570.9 386.5,570.7 387.5,570.9 388.5,570.2 389.5,570.4 390.5,569.9 391.5,569.0 392.5,569.2 393.5,569.5 394.5,569.3 395.5,569.2 396.5,569.3 397.5,568.5 398.5,567.0 399.5,566.8 400.5,566.5 401.5,566.6 402.5,565.9 403.5,566.0 404.5,566.2 405.5,565.5 406.5,565.9 407.5,565.4 408.5,564.7 409.5,564.8 410.5,564.8 411.5,564.1 412.5,564.6 413.5,565.2 414.5,566.0 415.5,566.1 416.5,565.4 417.5,565.2 418.5,565.9 419.5,566.5 420.5,566.8 421.5,566.6 422.5,566.8 423.5,566.7 424.5,566.6 425.5,566.9 426.5,566.9 427.5,566.9 428.5,567.0 429.5,566.9 430.5,566.1 431.5,566.1 432.5,566.4 433.5,567.5 434.5,567.3 435.5,568.5 436.5,569.4 437.5,569.1 438.5,569.0 439.5,569.4 440.5,570.6 441.5,570.9 442.5,571.4 443.5,571.3 444.5,570.5 445.5,570.9 446.5,571.8 447.5,572.7 448.5,573.0 449.5,573.4 450.5,573.8 451.5,573.4 452.5,573.7 453.5,572.8 454.5,572.1 455.5,571.5 456.5,571.7 457.5,571.4 458.5,571.4 459.5,571.5 460.5,571.5 461.5,572.0 462.5,572.4 463.5,571.6 464.5,571.5 465.5,571.1 466.5,570.4 467.5,571.1 468.5,571.2 469.5,570.8 470.5,570.3 471.5,570.4 472.5,569.9 473.5,569.9 474.5,570.5 475.5,571.0 476.5,570.5 477.5,570.3 478.5,571.3 479.5,570.5 480.5,570.3 481.5,569.8 482.5,570.2 483.5,570.5 484.5,571.1 485.5,569.9 486.5,570.2 487.5,569.7 488.5,570.3 489.5,570.4 490.5,571.4 491.5,571.2 492.5,570.5 493.5,570.8 494.5,570.0 495.5,569.6 496.5,569.9 497.5,569.9 498.5,569.8 499.5,569.4 500.5,569.3 501.5,569.4 502.5,569.2 503.5,569.7 504.5,570.2 505.5,570.2 506.5,569.7 507.5,570.5 508.5,570.4 509.5,570.8 510.5,571.2 511.5,570.7 512.5,571.1 513.5,570.4 514.5,570.9 515.5,570.7 516.5,570.8 517.5,571.1 518.5,570.8 519.5,570.8 520.5,570.5 521.5,570.5 522.5,571.1 523.5,571.0 524.5,570.9 525.5,570.4 526.5,570.9 527.5,570.9 528.5,571.6 529.5,571.1 530.5,571.5 531.5,572.2 532.5,571.9 533.5,571.2 534.5,571.8 535.5,572.1 536.5,572.1 537.5,572.4 538.5,571.8 539.5,572.0 540.5,572.1 541.5,571.5 542.5,571.7 543.5,571.3 544.5,571.6 545.5,572.0 546.5,572.6 547.5,571.3 548.5,571.3 549.5,571.0 550.5,570.9 551.5,570.7 552.5,570.6 553.5,569.6 554.5,570.2 555.5,570.9 556.5,571.2 557.5,571.6 558.5,570.9 559.5,570.3 560.5,570.7 561.5,571.1 562.5,571.1 563.5,570.4 564.5,571.8 565.5,571.5 566.5,571.9 567.5,571.4 568.5,572.0 569.5,572.1 570.5,572.8 571.5,573.1 572.5,572.2 573.5,571.7 574.5,571.9 575.5,572.2 576.5,573.0 577.5,572.9 578.5,572.7 579.5,572.5 580.5,572.4 581.5,572.7 582.5,572.5 583.5,572.4 584.5,571.6 585.5,570.7 586.5,571.0 587.5,571.5 588.5,571.5 589.5,571.8 590.5,572.1 591.5,572.1 592.5,572.5 593.5,572.0 594.5,572.0 595.5,571.8 596.5,571.6 597.5,571.6 598.5,571.7 599.5,571.3 600.5,571.1 601.5,570.5 602.5,570.1 603.5,570.5 604.5,570.4 605.5,571.1 606.5,571.2 607.5,571.2 608.5,572.1 609.5,571.8 610.5,571.6 611.5,571.6 612.5,571.7 613.5,571.8 614.5,572.2 615.5,572.2 616.5,572.4 617.5,572.3 618.5,572.8 619.5,572.6 620.5,572.4 621.5,572.5 622.5,572.7 623.5,572.5 624.5,573.3 625.5,572.9 626.5,572.6 627.5,572.3 628.5,572.0 629.5,572.3 630.5,572.3 631.5,571.9 632.5,571.6 633.5,571.5 634.5,572.2 635.5,571.8 636.5,571.1 637.5,570.7 638.5,570.7 639.5,571.5 640.5,571.0 641.5,571.1 642.5,572.2 643.5,571.8 644.5,572.3 645.5,572.7 646.5,572.7 647.5,571.8 648.5,571.8 649.5,571.6 650.5,570.6 651.5,570.0 652.5,570.3 653.5,570.6 654.5,571.3 655.5,571.6 656.5,571.3 657.5,571.1 658.5,571.0 659.5,570.6 660.5,571.0 661.5,571.1 662.5,570.8 663.5,570.6 664.5,570.2 665.5,570.2 666.5,570.5 667.5,570.5 668.5,571.1 669.5,571.9 670.5,571.4 671.5,571.4 672.5,571.2 673.5,572.0 674.5,572.0 675.5,572.1 676.5,572.3 677.5,573.1 678.5,572.9 679.5,572.1 680.5,571.9 681.5,572.2 682.5,572.2 683.5,571.9 684.5,573.3 685.5,573.2 686.5,572.9 687.5,572.6 688.5,571.9 689.5,571.7 690.5,571.9 691.5,572.1 692.5,571.8 693.5,572.2 694.5,572.2 695.5,571.8 696.5,570.9 697.5,571.1 698.5,571.3 699.5,571.2 700.5,570.6 701.5,570.8 702.5,570.2 703.5,570.8 704.5,570.9 705.5,571.0 706.5,570.6 707.5,570.1 708.5,570.9 709.5,571.2 710.5,570.8 711.5,571.1 712.5,571.9 713.5,571.3 714.5,571.1 715.5,570.9 716.5,571.3 717.5,570.9 718.5,571.2 719.5,570.9 720.5,571.5 721.5,572.1 722.5,572.0 723.5,572.4 724.5,572.1 725.5,572.1 726.5,572.7 727.5,572.7 728.5,572.9 729.5,572.4 730.5,572.7 731.5,572.8 732.5,572.1 733.5,571.0 734.5,570.3 735.5,570.6 736.5,570.8 737.5,570.3 738.5,570.6 739.5,571.3 740.5,571.3 741.5,571.2 742.5,571.7 743.5,572.4 744.5,572.9 745.5,572.3 746.5,572.5 747.5,572.3 748.5,572.0 749.5,571.6 750.5,571.6 751.5,571.3 752.5,571.7 753.5,571.7 754.5,572.0 755.5,571.3 756.5,571.4 757.5,571.9 758.5,572.1 759.5,572.2 760.5,571.8 761.5,572.7 762.5,573.1 763.5,573.2 764.5,571.9 765.5,571.6 766.5,571.9 767.5,571.8 768.5,571.1 769.5,571.7 770.5,572.2 771.5,571.9 772.5,572.0 773.5,572.0 774.5,572.6 775.5,572.0 776.5,571.6 777.5,571.8 778.5,572.0 779.5,573.5 780.5,573.4 781.5,573.7 782.5,573.7 783.5,573.6 784.5,573.9 785.5,574.7 786.5,574.4 787.5,574.6 788.5,574.5 789.5,574.6 790.5,574.5 791.5,575.3 792.5,574.3 793.5,573.9 794.5,573.1 795.5,572.1 796.5,572.2 797.5,573.1 798.5,573.4 799.5,573.7 800.5,573.6 801.5,573.3 802.5,574.0 803.5,573.4 804.5,573.7 805.5,573.2 806.5,572.9 807.5,572.7 808.5,572.4 809.5,572.4 810.5,572.4 811.5,572.9 812.5,572.5 813.5,571.3 814.5,570.2 815.5,569.6 816.5,569.4 817.5,569.9 818.5,569.5 819.5,569.9 820.5,570.3 821.5,570.7 822.5,570.9 823.5,571.4 824.5,571.6 825.5,572.3 826.5,572.5 827.5,571.5 828.5,571.8 829.5,572.1 830.5,572.1 831.5,572.0 832.5,572.8 833.5,573.0 834.5,572.7 835.5,572.8 836.5,573.0 837.5,572.5 838.5,573.2 839.5,573.4 840.5,573.9 841.5,573.3 842.5,574.6 843.5,575.0 844.5,575.1 845.5,574.6 846.5,574.2 847.5,573.4 848.5,574.3 849.5,573.8 850.5,573.9 851.5,574.1 852.5,573.7 853.5,574.1 854.5,574.9 855.5,574.7 856.5,575.1 857.5,575.0 858.5,574.4 859.5,574.0 860.5,573.0 861.5,573.0 862.5,573.7 863.5,573.8 864.5,574.0 865.5,574.2 866.5,573.6 867.5,573.7 868.5,574.3 869.5,573.5 870.5,573.2 871.5,572.8 872.5,572.6 873.5,572.1 874.5,572.0 875.5,571.3 876.5,571.1 877.5,571.0 878.5,570.9 879.5,571.6 880.5,571.6 881.5,571.6 882.5,571.4 883.5,571.9 884.5,570.9 885.5,571.0 886.5,571.7 887.5,572.5 888.5,572.5 889.5,572.4 890.5,572.7 891.5,572.5 892.5,572.8 893.5,572.4 894.5,572.8 895.5,572.7 896.5,572.2 897.5,571.1 898.5,571.9 899.5,572.3 900.5,572.9 901.5,572.5 902.5,573.2 903.5,573.4 904.5,573.4 905.5,573.9 906.5,574.3 907.5,574.4 908.5,575.2 909.5,575.6 910.5,575.5 911.5,575.1 912.5,575.0 913.5,575.7 914.5,575.6 915.5,575.0 916.5,574.5 917.5,574.5 918.5,574.8 919.5,574.3 920.5,574.5 921.5,575.0 922.5,575.2 923.5,574.3 924.5,574.1 925.5,573.5 926.5,573.9 927.5,573.4 928.5,573.8 929.5,573.9 930.5,572.8 931.5,572.7 932.5,573.2 933.5,573.4 934.5,573.3 935.5,572.9 936.5,573.4 937.5,574.3 938.5,574.4 939.5,574.3 940.5,573.7 941.5,572.4 942.5,571.7 943.5,570.7 944.5,570.8 945.5,569.7 946.5,568.1 947.5,567.4 948.5,566.9 949.5,566.4 950.5,565.1 951.5,566.1 952.5,566.5 953.5,566.7 954.5,566.7 955.5,567.3 956.5,567.5 957.5,568.0 958.5,568.2 959.5,568.5 960.5,569.3 961.5,569.5 962.5,569.2 963.5,569.9 964.5,570.0 965.5,569.6 966.5,570.0 967.5,569.7 968.5,570.1 969.5,569.3 970.5,568.2 971.5,567.4 972.5,567.7 973.5,567.6 974.5,567.8 975.5,567.9 976.5,567.3 977.5,568.1 978.5,567.7 979.5,567.8 980.5,567.2 981.5,567.3 982.5,567.8 983.5,567.7 984.5,567.4 985.5,567.5 986.5,567.3 987.5,567.7 988.5,568.7 989.5,568.2 990.5,567.8 991.5,567.8 992.5,567.8 993.5,567.3 994.5,567.7 995.5,568.1 996.5,568.2 997.5,567.6 998.5,568.3 999.5,567.7 1000.5,568.1 1001.5,568.6 1002.5,567.9 1003.5,567.9 1004.5,568.6 1005.5,568.6 1006.5,568.1 1007.5,567.5 1008.5,567.8 1009.5,567.6 1010.5,567.4 1011.5,567.8 1012.5,567.9 1013.5,568.2 1014.5,568.8 1015.5,569.3 1016.5,569.4 1017.5,569.6 1018.5,570.1 1019.5,570.5 1020.5,570.2 1021.5,570.3 1022.5,570.2 1023.5,570.0 1024.5,570.0 1025.5,569.2 1026.5,570.0 1027.5,569.9 1028.5,570.4 1029.5,569.7 1030.5,569.2 1031.5,570.6 1032.5,571.2 1033.5,571.0 1034.5,570.7 1035.5,570.6 1036.5,570.8 1037.5,570.8 1038.5,570.6 1039.5,570.9 1040.5,570.7 1041.5,572.2 1042.5,572.2 1043.5,573.0 1044.5,572.7 1045.5,573.1 1046.5,573.8 1047.5,573.9 1048.5,574.5 1049.5,575.1 1050.5,576.0 1051.5,575.9 1052.5,575.4 1053.5,574.7 1054.5,574.7 1055.5,574.2 1056.5,574.2 1057.5,574.3 1058.5,574.0 1059.5,573.6 1060.5,573.9 1061.5,574.1 1062.5,574.2 1063.5,574.1 1064.5,574.6 1065.5,574.0 1066.5,574.2 1067.5,573.9 1068.5,574.4 1069.5,574.1 1070.5,573.9 1071.5,574.1 1072.5,573.1 1073.5,572.6 1074.5,571.2 1075.5,570.3 1076.5,570.2 1077.5,569.9 1078.5,569.1 1079.5,568.4 1080.5,568.3 1081.5,568.6 1082.5,569.6 1083.5,569.7 1084.5,570.7 1085.5,570.3 1086.5,570.6 1087.5,570.8 1088.5,570.7 1089.5,570.5 1090.5,571.1 1091.5,571.7 1092.5,572.0 1093.5,572.6 1094.5,572.7 1095.5,571.5 1096.5,571.9 1097.5,571.4 1098.5,571.9 1099.5,571.6 1100.5,571.5 1101.5,571.3 1102.5,570.9 1103.5,570.0 1104.5,570.0 1105.5,570.0 1106.5,570.5 1107.5,570.2 1108.5,570.3 1109.5,569.9 1110.5,570.0 1111.5,569.2 1112.5,570.3 1113.5,570.4 1114.5,569.9 1115.5,570.1 1116.5,570.7 1117.5,571.1 1118.5,572.1 1119.5,572.2 1120.5,571.3 1121.5,571.2 1122.5,572.3 1123.5,573.1 1124.5,573.7 1125.5,573.5 1126.5,574.3 1127.5,574.9 1128.5,574.8 1129.5,574.7 1130.5,575.2 1131.5,575.6 1132.5,576.1 1133.5,576.0 1134.5,576.6 1135.5,575.6 1136.5,575.5 1137.5,574.8 1138.5,573.6 1139.5,572.9 1140.5,573.5 1141.5,573.1 1142.5,572.6 1143.5,573.2 1144.5,573.7 1145.5,573.7 1146.5,574.4 1147.5,573.5 1148.5,574.7 1149.5,575.0 1150.5,574.8 1151.5,574.7 1152.5,574.4 1153.5,574.1 1154.5,574.1 1155.5,573.4 1156.5,574.4 1157.5,574.3 1158.5,574.5 1159.5,574.2 1160.5,574.0 1161.5,574.3 1162.5,574.5 1163.5,573.9 1164.5,573.5 1165.5,573.5 1166.5,572.2 1167.5,571.0 1168.5,571.8 1169.5,571.5 1170.5,570.2 1171.5,569.9 1172.5,569.9 1173.5,570.0 1174.5,569.0 1175.5,567.7 1176.5,567.4 1177.5,567.0 1178.5,567.2 1179.5,567.4 1180.5,567.9 1181.5,567.7 1182.5,567.9 1183.5,567.8 1184.5,567.1 1185.5,566.8 1186.5,566.5 1187.5,566.4 1188.5,566.3 1189.5,566.4 1190.5,566.5 1191.5,566.1 1192.5,566.6 1193.5,565.9 1194.5,565.9 1195.5,566.3 1196.5,566.4 1197.5,566.6 1198.5,566.4 1199.5,566.6 1200.5,565.8 1201.5,566.2 1202.5,567.1 1203.5,567.1 1204.5,567.7 1205.5,567.4 1206.5,566.8 1207.5,566.5 1208.5,567.2 1209.5,567.5 1210.5,566.6 1211.5,566.6 1212.5,566.8 1213.5,566.5 1214.5,565.6 1215.5,565.5 1216.5,566.0 1217.5,566.3 1218.5,566.5 1219.5,567.2 1220.5,568.1 1221.5,568.2 1222.5,568.9 1223.5,569.0 1224.5,569.1 1225.5,568.1 1226.5,568.8 1227.5,568.9 1228.5,569.0 1229.5,568.7 1230.5,568.3 1231.5,568.6 1232.5,569.0 1233.5,569.7 1234.5,569.9 1235.5,569.4 1236.5,569.2 1237.5,569.6 1238.5,569.6 1239.5,569.4 1240.5,569.0 1241.5,569.3 1242.5,569.3 1243.5,570.0 1244.5,570.3 1245.5,569.2 1246.5,570.2 1247.5,570.0 1248.5,569.7 1249.5,569.7 1250.5,569.9 1251.5,569.7 1252.5,569.5 1253.5,569.4 1254.5,570.1 1255.5,569.9 1256.5,570.1 1257.5,570.1 1258.5,569.7 1259.5,569.2 1260.5,568.7 1261.5,568.9 1262.5,568.4 1263.5,568.0 1264.5,567.6 1265.5,567.1 1266.5,567.5 1267.5,567.9 1268.5,567.6 1269.5,568.5 1270.5,568.4 1271.5,568.8 1272.5,568.9 1273.5,569.7 1274.5,569.9 1275.5,569.7 1276.5,569.1 1277.5,568.5 1278.5,568.6 1279.5,568.7 1280.5,569.1 1281.5,568.9 1282.5,568.9 1283.5,568.6 1284.5,567.9 1285.5,568.2 1286.5,569.2 1287.5,569.9 1288.5,572.3 1289.5,574.5 1290.5,573.3 1291.5,572.1 1292.5,571.8 1293.5,570.3 1294.5,568.6 1295.5,567.8 1296.5,568.2 1297.5,568.8 1298.5,569.0 1299.5,569.2 1300.5,569.1 1301.5,569.2 1302.5,569.3 1303.5,569.5 1304.5,569.7 1305.5,570.4 1306.5,570.3 1307.5,569.9 1308.5,569.8 1309.5,569.0 1310.5,569.0 1311.5,569.1 1312.5,568.0 1313.5,567.5 1314.5,567.1 1315.5,566.5 1316.5,565.8 1317.5,565.6 1318.5,567.2 1319.5,567.6 1320.5,567.9 1321.5,568.4 1322.5,568.3 1323.5,567.8 1324.5,568.2 1325.5,568.9 1326.5,567.9 1327.5,568.4 1328.5,569.2 1329.5,569.1 1330.5,569.0 1331.5,569.5 1332.5,569.0 1333.5,569.1 1334.5,569.3 1335.5,569.0 1336.5,568.4 1337.5,568.5 1338.5,568.1 1339.5,568.0 1340.5,566.5 1341.5,566.9 1342.5,566.2 1343.5,566.3 1344.5,566.4 1345.5,566.1 1346.5,565.6 1347.5,565.1 1348.5,565.1 1349.5,565.5 1350.5,565.7 1351.5,565.4" fill="none" stroke="#7a7073" stroke-width="3.4" stroke-linejoin="round" stroke-linecap="round"/></g>
<rect x="69.5" y="20.5" width="1283" height="593" fill="none" stroke="#b4b4b4" stroke-width="1" shape-rendering="crispEdges"/>
<g font-size="12" fill="#111">
<text x="69.2" y="631.1" text-anchor="middle">0</text>
<text x="171.2" y="631.1" text-anchor="middle">50</text>
<text x="273.3" y="631.1" text-anchor="middle">100</text>
<text x="375.3" y="631.1" text-anchor="middle">150</text>
<text x="477.4" y="631.1" text-anchor="middle">200</text>
<text x="579.4" y="631.1" text-anchor="middle">250</text>
<text x="681.5" y="631.1" text-anchor="middle">300</text>
<text x="783.5" y="631.1" text-anchor="middle">350</text>
<text x="885.6" y="631.1" text-anchor="middle">400</text>
<text x="987.6" y="631.1" text-anchor="middle">450</text>
<text x="1089.7" y="631.1" text-anchor="middle">500</text>
<text x="1191.8" y="631.1" text-anchor="middle">550</text>
<text x="1293.8" y="631.1" text-anchor="middle">600</text>
<text x="65.2" y="618.8" text-anchor="end">0</text>
<text x="65.2" y="513.8" text-anchor="end">20</text>
<text x="65.2" y="408.8" text-anchor="end">40</text>
<text x="65.2" y="303.8" text-anchor="end">60</text>
<text x="65.2" y="198.8" text-anchor="end">80</text>
<text x="65.2" y="93.8" text-anchor="end">100</text>
</g>
<text x="710.5" y="654" text-anchor="middle" font-size="13.2" fill="#111">Recording time [s]</text>
<text transform="translate(30,316.5) rotate(-90)" text-anchor="middle" font-size="12.6" fill="#111">Frametime [ms]</text>
<rect x="605" y="670" width="16" height="3" fill="#2196f3"/>
<text x="625.3" y="676" font-size="12" fill="#111" textLength="61.7" lengthAdjust="spacingAndGlyphs">Frametimes</text>
<rect x="711" y="670" width="16" height="3" fill="#8d7b78"/>
<text x="731.6" y="676" font-size="12" fill="#111" textLength="84.4" lengthAdjust="spacingAndGlyphs">Moving average</text>
<text x="22" y="649" font-size="8.85" fill="#8a8a8a">Y-Axis scale</text>
<text x="21" y="668" font-size="12" fill="#333">Full fit</text>
<path d="M98,663h8l-4,4.5z" fill="#666"/>
<rect x="21" y="678" width="85" height="1" fill="#6a6a6a"/>
<path d="M130.5,717V1020 M320.5,717V1020 M510.5,717V1020 M701.5,717V1020" stroke="#d4d4d4" stroke-width="1" fill="none" shape-rendering="crispEdges"/>
<rect x="130" y="722.00" width="573.0" height="28" fill="#f07d20"/>
<text x="23" y="740.5" font-size="12.25" fill="#444">P95</text>
<text x="708.5" y="740.5" font-size="12" fill="#444" stroke="#444" stroke-width="0.55" stroke-linejoin="round">150.4</text>
<rect x="130" y="759.86" width="473.6" height="28" fill="#f07d20"/>
<text x="23" y="779.2" font-size="12.25" fill="#444">Average</text>
<text x="609.1" y="779.6" font-size="12" fill="#444" stroke="#444" stroke-width="0.55" stroke-linejoin="round">124.3</text>
<rect x="130" y="797.71" width="394.0" height="28" fill="#f07d20"/>
<text x="23" y="816.2" font-size="12.25" fill="#444">P5</text>
<text x="529.5" y="817.4" font-size="12" fill="#444" stroke="#444" stroke-width="0.55" stroke-linejoin="round">103.4</text>
<rect x="130" y="835.57" width="342.5" height="28" fill="#f07d20"/>
<text x="23" y="854.1" font-size="12.25" fill="#444">P1</text>
<text x="478.0" y="854.1" font-size="12" fill="#444" stroke="#444" stroke-width="0.55" stroke-linejoin="round">89.9</text>
<rect x="130" y="873.43" width="299.5" height="28" fill="#f07d20"/>
<text x="23" y="891.9" font-size="12.25" fill="#444">1% Low Average</text>
<text x="435.0" y="891.9" font-size="12" fill="#444" stroke="#444" stroke-width="0.55" stroke-linejoin="round">78.6</text>
<rect x="130" y="911.29" width="298.7" height="28" fill="#f07d20"/>
<text x="23" y="929.8" font-size="12.25" fill="#444">P0.2</text>
<text x="434.2" y="929.8" font-size="12" fill="#444" stroke="#444" stroke-width="0.55" stroke-linejoin="round">78.4</text>
<rect x="130" y="949.14" width="285.4" height="28" fill="#f07d20"/>
<text x="23" y="967.6" font-size="12.25" fill="#444">P0.1</text>
<text x="420.9" y="967.6" font-size="12" fill="#444" stroke="#444" stroke-width="0.55" stroke-linejoin="round">74.9</text>
<rect x="130" y="987.00" width="185.5" height="28" fill="#f07d20"/>
<text x="23" y="1005.5" font-size="12.25" fill="#444">0.1% Low Average</text>
<text x="321.0" y="1005.5" font-size="12" fill="#444" stroke="#444" stroke-width="0.55" stroke-linejoin="round">48.7</text>
<text x="130.0" y="1036.5" font-size="12" text-anchor="middle" fill="#444">0</text>
<text x="320.5" y="1036.5" font-size="12" text-anchor="middle" fill="#444">50</text>
<text x="511.0" y="1036.5" font-size="12" text-anchor="middle" fill="#444">100</text>
<text x="701.5" y="1036.5" font-size="12" text-anchor="middle" fill="#444">150</text>
<text x="366.2" y="1056" font-size="12" fill="#555" textLength="20.8" lengthAdjust="spacingAndGlyphs">FPS</text>
<text x="431.5" y="1056" font-size="12" fill="#555">ms</text>
<rect x="396" y="1048" width="27" height="10" rx="5" fill="#b6b6b6"/>
<defs><filter id="sh" x="-30%" y="-30%" width="160%" height="170%"><feGaussianBlur in="SourceAlpha" stdDeviation="1"/><feOffset dy="1"/><feComponentTransfer><feFuncA type="linear" slope="0.35"/></feComponentTransfer><feMerge><feMergeNode/><feMergeNode in="SourceGraphic"/></feMerge></filter></defs>
<circle cx="400.5" cy="1052" r="8.8" fill="#fafafa" filter="url(#sh)"/>
<rect x="820" y="709" width="75" height="25" fill="#dedede"/>
<rect x="818.5" y="734.5" width="594" height="327" fill="#ededed" stroke="#ababab" stroke-width="1" shape-rendering="crispEdges"/>
<g font-size="12" fill="#555">
<text x="831" y="726.5" fill="#333" textLength="53" lengthAdjust="spacingAndGlyphs">Stuttering</text>
<text x="906" y="726.5" textLength="53" lengthAdjust="spacingAndGlyphs">Variances</text>
<text x="982.3" y="726.5" textLength="80.9" lengthAdjust="spacingAndGlyphs">FPS thresholds</text>
<text x="1080.6" y="726.5" textLength="63.9" lengthAdjust="spacingAndGlyphs">Sensor data</text>
</g>
<path transform="translate(833.91,743.11) scale(0.845)" d="M12,15.5A3.5,3.5 0 0,1 8.5,12A3.5,3.5 0 0,1 12,8.5A3.5,3.5 0 0,1 15.5,12A3.5,3.5 0 0,1 12,15.5M19.43,12.97C19.47,12.65 19.5,12.33 19.5,12C19.5,11.67 19.47,11.34 19.43,11L21.54,9.37C21.73,9.22 21.78,8.95 21.66,8.73L19.66,5.27C19.54,5.05 19.27,4.96 19.05,5.05L16.56,6.05C16.04,5.66 15.5,5.32 14.87,5.07L14.5,2.42C14.46,2.18 14.25,2 14,2H10C9.75,2 9.54,2.18 9.5,2.42L9.13,5.07C8.5,5.32 7.96,5.66 7.44,6.05L4.95,5.05C4.73,4.96 4.46,5.05 4.34,5.27L2.34,8.73C2.21,8.95 2.27,9.22 2.46,9.37L4.57,11C4.53,11.34 4.5,11.67 4.5,12C4.5,12.33 4.53,12.65 4.57,12.97L2.46,14.63C2.27,14.78 2.21,15.05 2.34,15.27L4.34,18.73C4.46,18.95 4.73,19.03 4.95,18.95L7.44,17.94C7.96,18.34 8.5,18.68 9.13,18.93L9.5,21.58C9.54,21.82 9.75,22 10,22H14C14.25,22 14.46,21.82 14.5,21.58L14.87,18.93C15.5,18.67 16.04,18.34 16.56,17.94L19.05,18.95C19.27,19.03 19.54,18.95 19.66,18.73L21.66,15.27C21.78,15.05 21.73,14.78 21.54,14.63L19.43,12.97Z" fill="#1e1e1e"/>
<text x="865.5" y="758" font-size="14" fill="#5a5a5a">Options</text>
<circle cx="840.7" cy="877.4" r="7.4" fill="#2196f3"/>
<text x="852.5" y="882.2" font-size="13.9" fill="#555" stroke="#555" stroke-width="0.25" textLength="160.7" lengthAdjust="spacingAndGlyphs" xml:space="preserve">Smooth:  628.26s (99.9%)</text>
<circle cx="840.7" cy="898" r="7.4" fill="#ffb300"/>
<text x="852.5" y="902.8" font-size="13.9" fill="#555" stroke="#555" stroke-width="0.25" textLength="110.8" lengthAdjust="spacingAndGlyphs" xml:space="preserve">Low FPS:  0s (0%)</text>
<circle cx="840.7" cy="918.7" r="7.4" fill="#ff0000"/>
<text x="852.5" y="923.5" font-size="13.9" fill="#555" stroke="#555" stroke-width="0.25" textLength="150.3" lengthAdjust="spacingAndGlyphs" xml:space="preserve">Stuttering:  0.55s (0.1%)</text>
<circle cx="1209.75" cy="897.8" r="120" fill="#2196f3"/>
<path d="M1209.75,897.8L1209.0,777.8L1209.75,777.8Z" fill="#e53935" opacity="0.8"/>
</svg>
</body></html>
